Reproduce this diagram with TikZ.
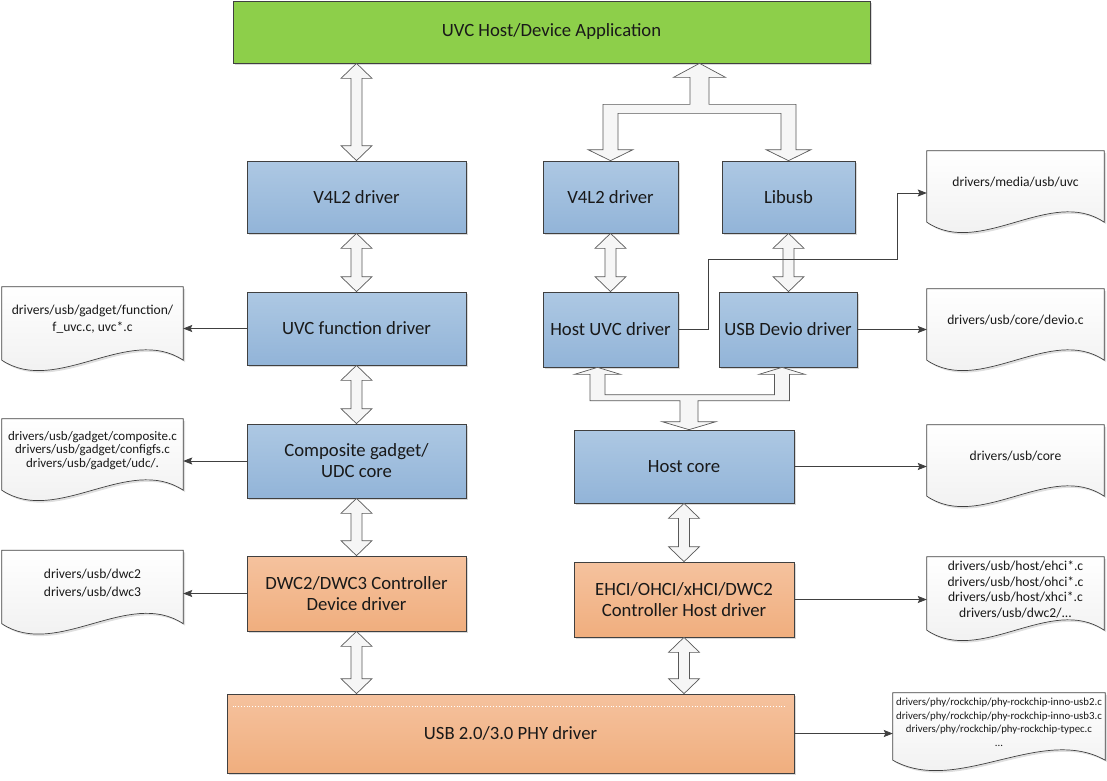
\documentclass[tikz,border=0pt]{standalone}
\usepackage{fontspec}
\setmainfont{Carlito}
\usetikzlibrary{arrows.meta,calc,shadows,backgrounds}
\definecolor{appgreen}  {HTML}{8DCF4A}
\definecolor{bluetop}   {HTML}{ADC8E3}
\definecolor{bluebot}   {HTML}{92B4D8}
\definecolor{orangetop} {HTML}{F5C29E}
\definecolor{orangebot} {HTML}{F0AE7E}
\newcommand{\boxfont}{\fontsize{18.7}{21}\selectfont}
\newcommand{\docfont}{\fontsize{13.6}{16}\selectfont}
% hollow double arrow: #1 gives x, from #2 (top) to #3 (bottom)
\newcommand{\dblarrow}[3]{%
  \draw[fatarr] let \p1=(#1.center |- #2.south), \p2=(#1.center |- #3.north) in
    (\x1,\y1) -- ++(15.5pt,-15pt) -- ++(-10pt,0pt) -- (\x1+5.5pt,\y2+15pt)
    -- ++(10pt,0pt) -- (\x1,\y2) -- ++(-15.5pt,15pt) -- ++(10pt,0pt)
    -- (\x1-5.5pt,\y1-15pt) -- ++(-10pt,0pt) -- cycle;}
% document shape with wavy bottom
\newcommand{\docoutline}[1]{%
  \draw[docline] let \p1=(#1.south west), \p2=(#1.south east) in
    (\x1,\y1-8pt) -- (#1.north west) -- (#1.north east) -- (\x2,\y2-8pt)
    .. controls ({\x1+0.7*(\x2-\x1)},{\y2+28pt}) and ({\x1+0.3*(\x2-\x1)},{\y1-44pt}) .. (\x1,\y1-8pt) -- cycle;}

\begin{document}
\begin{tikzpicture}[x=1pt,y=-1pt,
  box/.style={draw=black!75,line width=0.7pt,inner sep=0pt,align=center,
              font=\boxfont,text=black!90,
              drop shadow={shadow xshift=2pt,shadow yshift=-2pt,opacity=.3}},
  bluebox/.style={box,top color=bluetop,bottom color=bluebot},
  orangebox/.style={box,top color=orangetop,bottom color=orangebot},
  doc/.style={inner sep=0pt,align=center,font=\docfont,text=black!90},
  docline/.style={draw=black!75,line width=0.7pt,top color=white,bottom color=gray!14,
              drop shadow={shadow xshift=2pt,shadow yshift=-2pt,opacity=.25}},
  fatarr/.style={draw=black!65,line width=0.7pt,fill=gray!7},
  link/.style={-{Stealth[length=9pt,width=7pt,inset=1.5pt]},draw=black!75,line width=0.8pt}
]
\useasboundingbox (0,0) rectangle (1107,780);

\node[box,fill=appgreen,minimum width=637,minimum height=62] (app) at (551.5,32) {UVC Host/Device Application};

% device side
\node[bluebox,minimum width=219,minimum height=72] (v4l)  at (356.5,197)   {V4L2 driver};
\node[bluebox,minimum width=219,minimum height=73] (uvcf) at (356.5,328.5) {UVC function driver};
\node[bluebox,minimum width=219,minimum height=74] (comp) at (356.5,461)   {Composite gadget/\\UDC core};
\node[orangebox,minimum width=219,minimum height=75] (dwc) at (356.5,593.5) {DWC2/DWC3 Controller\\Device driver};

% host side
\node[bluebox,minimum width=135,minimum height=72] (v4r)    at (610.5,197)   {V4L2 driver};
\node[bluebox,minimum width=133,minimum height=72] (libusb) at (788.5,197)   {Libusb};
\node[bluebox,minimum width=135,minimum height=75] (huvc)   at (610.5,329.5) {Host UVC driver};
\node[bluebox,minimum width=138,minimum height=75] (devio)  at (788,329.5)   {USB Devio driver};
\node[bluebox,minimum width=220,minimum height=73] (hcore)  at (684,466.5)   {Host core};
\node[orangebox,minimum width=220,minimum height=75] (ehci) at (684,599.5)   {EHCI/OHCI/xHCI/DWC2\\Controller Host driver};

\node[orangebox,minimum width=567,minimum height=79] (phy) at (510.5,733.5) {USB 2.0/3.0 PHY driver};
\draw[white,dotted,line width=0.8pt] ([shift={(6pt,-13pt)}]phy.north west) -- ([shift={(-9pt,-13pt)}]phy.north east);

% source files
\node[doc,minimum width=181,minimum height=65,font=\fontsize{13.6}{17}\selectfont] (dfuvc) at (92.5,319.5)
  {drivers/usb/gadget/function/\\f\_uvc.c, uvc*.c};
\node[doc,minimum width=181,minimum height=63,font=\fontsize{13}{13.5}\selectfont] (dcomp) at (92.5,450.5)
  {drivers/usb/gadget/composite.c\\drivers/usb/gadget/configfs.c\\drivers/usb/gadget/udc/.};
\node[doc,minimum width=181,minimum height=65,font=\fontsize{13.6}{18}\selectfont] (ddwc) at (92.5,583)
  {drivers/usb/dwc2\\drivers/usb/dwc3};
\node[doc,minimum width=177,minimum height=63] (duvc)   at (1015.5,182.5) {drivers/media/usb/uvc};
\node[doc,minimum width=177,minimum height=63] (ddevio) at (1015.5,320.5) {drivers/usb/core/devio.c};
\node[doc,minimum width=177,minimum height=63] (dcore)  at (1015.5,456.5) {drivers/usb/core};
\node[doc,minimum width=177,minimum height=65,font=\fontsize{13.6}{15.5}\selectfont] (dhost) at (1015.5,589.5)
  {drivers/usb/host/ehci*.c\\drivers/usb/host/ohci*.c\\drivers/usb/host/xhci*.c\\drivers/usb/dwc2/...};
\node[doc,minimum width=212,minimum height=59,font=\fontsize{10.8}{13.5}\selectfont] (dphy) at (999,722.5)
  {drivers/phy/rockchip/phy-rockchip-inno-usb2.c\\drivers/phy/rockchip/phy-rockchip-inno-usb3.c\\drivers/phy/rockchip/phy-rockchip-typec.c\\...};

\begin{pgfonlayer}{background}
\foreach \d in {dfuvc,dcomp,ddwc,duvc,ddevio,dcore,dhost,dphy} {\docoutline{\d}}
\end{pgfonlayer}

% vertical double arrows
\dblarrow{v4l}{app}{v4l}
\dblarrow{v4l}{v4l}{uvcf}
\dblarrow{uvcf}{uvcf}{comp}
\dblarrow{comp}{comp}{dwc}
\dblarrow{dwc}{dwc}{phy}
\dblarrow{v4r}{v4r}{huvc}
\dblarrow{libusb}{libusb}{devio}
\dblarrow{hcore}{hcore}{ehci}
\dblarrow{ehci}{ehci}{phy}

% fork: application to V4L2 / Libusb
\draw[fatarr] let \p1=(app.south), \p2=(v4r.north), \p3=(libusb.north),
                  \p4=($(v4r.north)!0.5!(libusb.north)$) in
  (\x4,\y1) -- ++(26pt,-14pt) -- ++(-16.5pt,0pt) -- (\x4+9.5pt,\y1-41pt)
  -- (\x3+7.5pt,\y1-41pt) -- (\x3+7.5pt,\y3+11pt) -- ++(15pt,0pt) -- (\x3,\y3)
  -- ++(-22.5pt,11pt) -- ++(15pt,0pt) -- (\x3-7.5pt,\y1-50pt)
  -- (\x2+7.5pt,\y1-50pt) -- (\x2+7.5pt,\y2+11pt) -- ++(15pt,0pt) -- (\x2,\y2)
  -- ++(-22.5pt,11pt) -- ++(15pt,0pt) -- (\x2-7.5pt,\y1-41pt)
  -- (\x4-9.5pt,\y1-41pt) -- (\x4-9.5pt,\y1-14pt) -- ++(-16.5pt,0pt) -- cycle;

% fork: Host UVC / USB Devio to host core
\draw[fatarr] let \p1=([xshift=-13pt]huvc.south), \p2=([xshift=-6pt]devio.south),
                  \p3=([xshift=5pt]hcore.north) in
  (\x1,\y1) -- ++(23pt,-7pt) -- ++(-15.5pt,0pt) -- (\x1+7.5pt,\y3+35pt)
  -- (\x2-7.5pt,\y3+35pt) -- (\x2-7.5pt,\y2-7pt) -- ++(-15.5pt,0pt) -- (\x2,\y2)
  -- ++(23pt,-7pt) -- ++(-15.5pt,0pt) -- (\x2+7.5pt,\y3+29pt)
  -- (\x3+9pt,\y3+29pt) -- (\x3+9pt,\y3+8pt) -- ++(18pt,0pt) -- (\x3,\y3)
  -- ++(-27pt,8pt) -- ++(18pt,0pt) -- (\x3-9pt,\y3+29pt)
  -- (\x1-7.5pt,\y3+29pt) -- (\x1-7.5pt,\y1-7pt) -- ++(-15.5pt,0pt) -- cycle;

% links to source files
\draw[link] (uvcf.west) -- (uvcf.west -| dfuvc.east);
\draw[link] (comp.west) -- (comp.west -| dcomp.east);
\draw[link] (dwc.west)  -- (dwc.west -| ddwc.east);
\coordinate (bend) at (897,259);
\draw[link] (huvc.east) -- ++(30,0) |- (bend) |- ([yshift=-10.5pt]duvc.west);
\draw[link] (devio.east) -- (devio.east -| ddevio.west);
\draw[link] (hcore.east) -- (hcore.east -| dcore.west);
\draw[link] (ehci.east)  -- (ehci.east -| dhost.west);
\draw[link] (phy.east)   -- (phy.east -| dphy.west);
\end{tikzpicture}
\end{document}
